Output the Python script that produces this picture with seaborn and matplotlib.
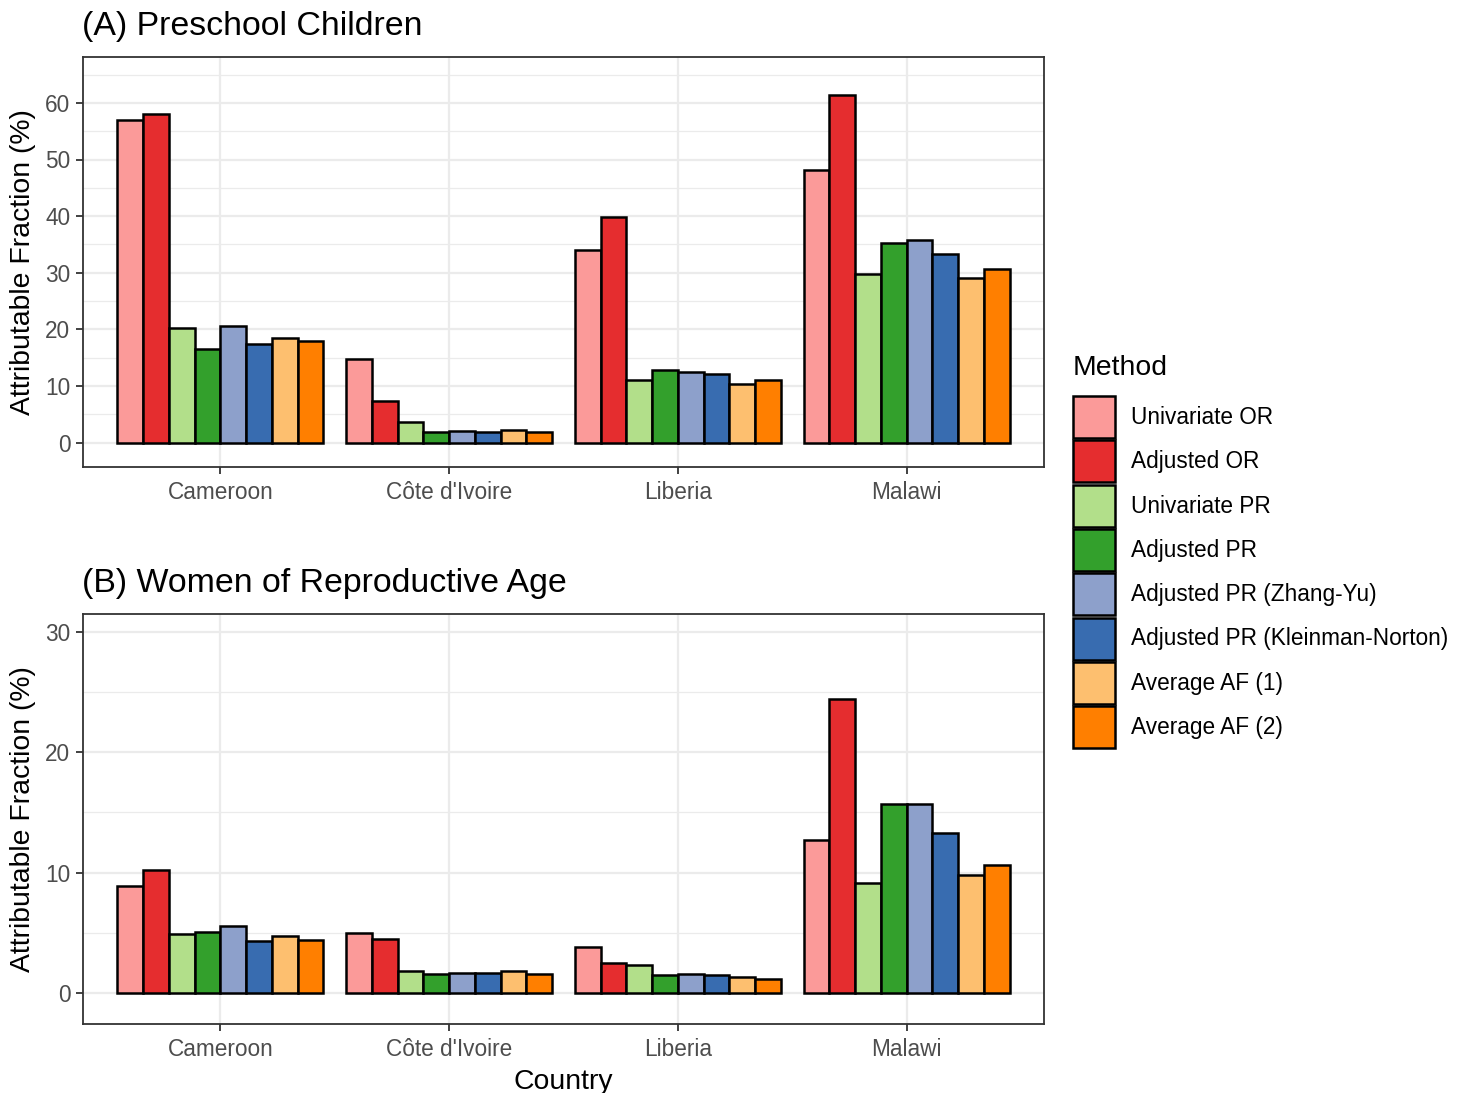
import numpy as np
import pandas as pd
import matplotlib.pyplot as plt
from matplotlib.patches import Patch
from matplotlib.ticker import MultipleLocator
import seaborn as sns

sns.set_theme(style="white")
plt.rcParams['font.family'] = ['Liberation Sans', 'DejaVu Sans']

countries = ["Cameroon", "Côte d'Ivoire", "Liberia", "Malawi"]
methods = ["Univariate OR", "Adjusted OR", "Univariate PR", "Adjusted PR",
           "Adjusted PR (Zhang-Yu)", "Adjusted PR (Kleinman-Norton)",
           "Average AF (1)", "Average AF (2)"]
colors = ["#FB9A99", "#E52D2F", "#B2DF8A", "#33A02C",
          "#8DA0CB", "#386CB0", "#FDBF6F", "#FF7F00"]

# (A) Preschool Children, values in method order
children_cameroon = [56.9, 58.1, 20.3, 16.5, 20.6, 17.5, 18.5, 18.0]
children_cote = [14.7, 7.3, 3.6, 1.8, 2.1, 1.8, 2.3, 1.9]
children_liberia = [34.1, 39.8, 11.1, 12.8, 12.4, 12.2, 10.4, 11.1]
children_malawi = [48.2, 61.4, 29.7, 35.2, 35.7, 33.4, 29.0, 30.6]

# (B) Women of Reproductive Age
women_cameroon = [8.9, 10.2, 4.9, 5.1, 5.6, 4.3, 4.7, 4.4]
women_cote = [5.0, 4.5, 1.85, 1.6, 1.7, 1.7, 1.8, 1.6]
women_liberia = [3.8, 2.5, 2.35, 1.5, 1.6, 1.5, 1.3, 1.2]
women_malawi = [12.7, 24.4, 9.1, 15.7, 15.7, 13.3, 9.8, 10.6]


def make_df(per_country):
    rows = []
    for c, vals in zip(countries, per_country):
        for m, v in zip(methods, vals):
            rows.append({"Country": c, "Method": m, "AF": v})
    return pd.DataFrame(rows)


dfA = make_df([children_cameroon, children_cote, children_liberia, children_malawi])
dfB = make_df([women_cameroon, women_cote, women_liberia, women_malawi])

W, H = 1466, 1093
fig = plt.figure(figsize=(W / 100, H / 100), dpi=100)
axA = fig.add_axes([83 / W, 1 - 467 / H, (1044 - 83) / W, (467 - 57) / H])
axB = fig.add_axes([83 / W, 1 - 1024 / H, (1044 - 83) / W, (1024 - 614) / H])

grid_col = "#EBEBEB"
dark = "#333333"


def draw(ax, df, title, ylim, major, show_xlabel):
    sns.barplot(data=df, x="Country", y="AF", hue="Method", hue_order=methods,
                order=countries, palette=colors, saturation=1, width=0.9,
                errorbar=None, edgecolor="black", linewidth=1.8, legend=False, ax=ax)
    ax.set_xlim(-0.6, 3.6)
    ax.set_ylim(*ylim)
    ax.yaxis.set_major_locator(MultipleLocator(major))
    ax.yaxis.set_minor_locator(MultipleLocator(major / 2))
    ax.set_axisbelow(True)
    ax.grid(which="major", axis="both", color=grid_col, linewidth=1.6)
    ax.grid(which="minor", axis="y", color=grid_col, linewidth=0.9)
    for s in ax.spines.values():
        s.set_color(dark)
        s.set_linewidth(1.3)
    ax.tick_params(axis="both", which="major", length=5, width=1.3, color=dark,
                   labelsize=16.3, labelcolor="#4D4D4D", pad=4)
    ax.tick_params(axis="x", pad=5)
    ax.tick_params(which="minor", length=0)
    ax.tick_params(left=True, bottom=True)
    ax.set_ylabel("Attributable Fraction (%)", fontsize=20.4, color="black", labelpad=7)
    if show_xlabel:
        ax.set_xlabel("Country", fontsize=20.4, color="black", labelpad=6)
    else:
        ax.set_xlabel("")
    ax.set_title(title, loc="left", fontsize=24.4, color="black", pad=16, x=-0.001)


draw(axA, dfA, "(A) Preschool Children", (-4.3, 68.1), 10, False)
draw(axB, dfB, "(B) Women of Reproductive Age", (-2.57, 31.47), 10, True)

# legend: title as separate text so the gap to the keys matches
fig.text(1073 / W, 1 - 368 / H, "Method", fontsize=20.4, color="black",
         ha="left", va="center")
handles = [Patch(facecolor=c, edgecolor="black", linewidth=1.8) for c in colors]
leg = fig.legend(handles, methods, loc="upper left",
                 bbox_to_anchor=(1073 / W, 1 - 396 / H), frameon=False,
                 fontsize=16.3, handlelength=1.86, handleheight=2.48,
                 labelspacing=0.1, handletextpad=0.7, borderpad=0,
                 borderaxespad=0)
for t in leg.get_texts():
    t.set_color("black")

fig.savefig("out.png", dpi=100)
